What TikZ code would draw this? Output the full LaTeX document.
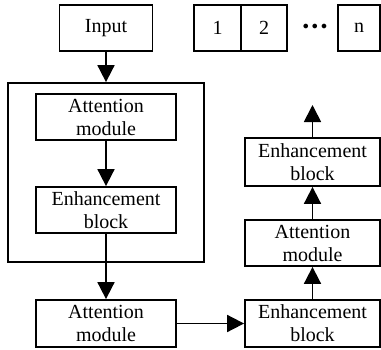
\documentclass[tikz,border=0pt]{standalone}
\usepackage{fontspec}
\setmainfont{Liberation Serif}
\usetikzlibrary{arrows.meta}
\begin{document}
\begin{tikzpicture}[x=1pt,y=-1pt,
  blk/.style={draw,line width=1.8pt,align=center,inner sep=0pt,font=\fontsize{20}{23}\selectfont},
  arr/.style={line width=1.8pt,-{Triangle[length=17pt,width=17pt]}}]
\useasboundingbox (0,0) rectangle (381,349);
\node[blk,minimum width=93pt,minimum height=46pt] (input) at (106,28) {Input};
\node[blk,minimum width=47pt,minimum height=46pt] (one) at (217.5,28) {1};
\node[blk,minimum width=46pt,minimum height=46pt] (two) at (264,28) {2};
\node[font=\fontsize{13}{13}\selectfont,inner sep=0pt] (dots) at (315,27) {$\bullet\hspace{0.5pt}\bullet\hspace{0.5pt}\bullet$};
\node[blk,minimum width=42pt,minimum height=46pt] (n) at (359,28) {n};
\node[blk,minimum width=196pt,minimum height=179pt] (frame) at (106,172.5) {};
\node[blk,minimum width=140pt,minimum height=46pt] (att1) at (106,117) {Attention\\module};
\node[blk,minimum width=140pt,minimum height=46pt] (enh1) at (106,210) {Enhancement\\block};
\node[blk,minimum width=140pt,minimum height=47pt] (att2) at (106,323.5) {Attention\\module};
\node[blk,minimum width=135pt,minimum height=47pt] (enh2) at (312.5,323.5) {Enhancement\\block};
\node[blk,minimum width=135pt,minimum height=46pt] (att3) at (312.5,243) {Attention\\module};
\node[blk,minimum width=135pt,minimum height=48pt] (enh3) at (312.5,162) {Enhancement\\block};
\coordinate (out) at (312.5,105);
\draw[arr] (input) -- (frame);
\draw[arr] (att1) -- (enh1);
\draw[arr] (enh1.south) -- (att2.north);
\draw[arr] (att2) -- (enh2);
\draw[arr] (enh2) -- (att3);
\draw[arr] (att3) -- (enh3);
\draw[arr] (enh3) -- (out);
\end{tikzpicture}
\end{document}
